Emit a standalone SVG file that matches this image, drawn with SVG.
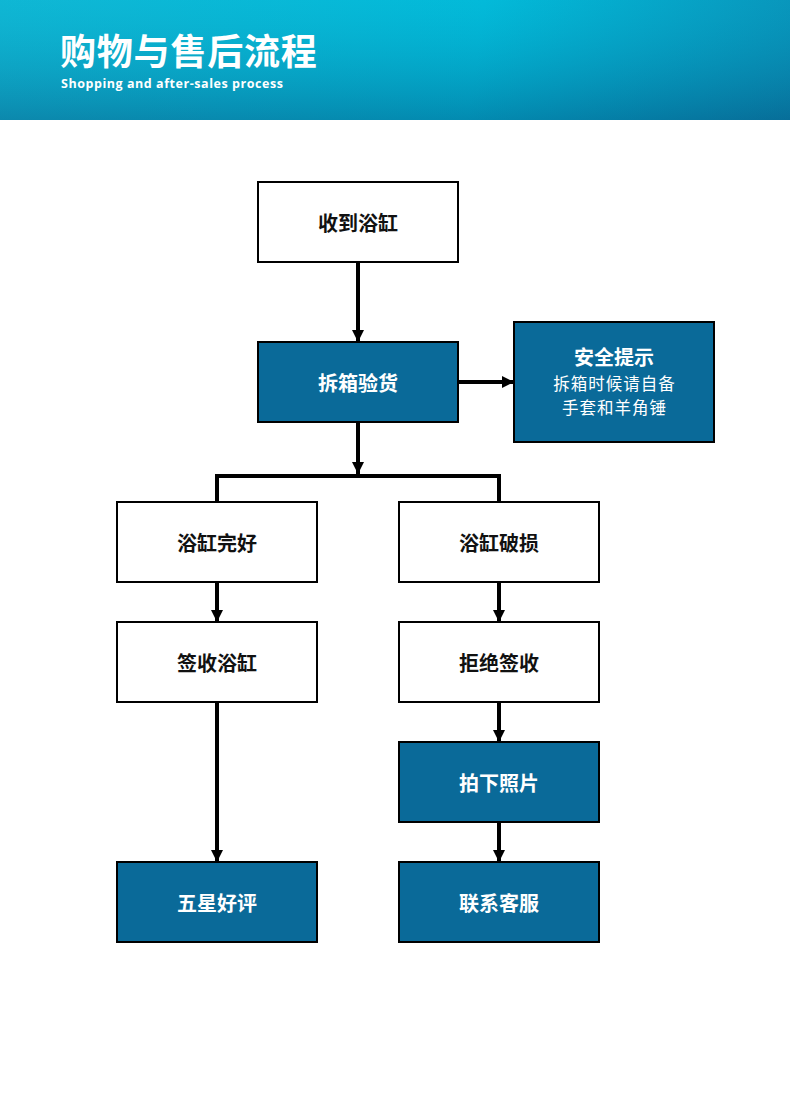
<svg xmlns="http://www.w3.org/2000/svg" width="790" height="1103" viewBox="0 0 790 1103">
<defs>
<linearGradient id="hdr" x1="0" y1="0" x2="790" y2="120" gradientUnits="userSpaceOnUse">
<stop offset="0" stop-color="#12b2d0"/>
<stop offset="0.6" stop-color="#03b6d6"/>
<stop offset="1" stop-color="#0a8ab2"/>
</linearGradient>
<linearGradient id="hdr2" x1="0" y1="0" x2="0" y2="1">
<stop offset="0" stop-color="#00d0ea" stop-opacity="0.15"/>
<stop offset="1" stop-color="#023a6a" stop-opacity="0.35"/>
</linearGradient>
<marker id="ah" viewBox="0 0 12 12" refX="12" refY="6" markerWidth="12" markerHeight="12" markerUnits="userSpaceOnUse" orient="auto">
<path d="M0,0 L12,6 L0,12 Z" fill="#000"/>
</marker>
<style>
.w{fill:#fff;stroke:#000;stroke-width:2}
.b{fill:#0a6a99;stroke:#000;stroke-width:2}
.t{font-family:"Noto Sans CJK SC","Noto Sans",sans-serif;font-size:20px;font-weight:700;text-anchor:middle;dominant-baseline:central}
.tw{fill:#fff}
.tk{fill:#111}
.s{font-family:"Noto Sans CJK SC","Noto Sans",sans-serif;font-size:16.5px;letter-spacing:1px;font-weight:400;text-anchor:middle;dominant-baseline:central;fill:#fff}
.c{stroke:#000;stroke-width:4;fill:none}
</style>
</defs>
<rect width="790" height="1103" fill="#fff"/>
<g id="header">
<rect x="0" y="0" width="790" height="120" fill="url(#hdr)"/>
<rect x="0" y="0" width="790" height="120" fill="url(#hdr2)"/>
<text x="60" y="65" font-family="'Noto Sans CJK SC',sans-serif" font-size="36" font-weight="700" fill="#fff" letter-spacing="0.8">购物与售后流程</text>
<text x="61" y="88" font-family="'Open Sans','Noto Sans',sans-serif" font-size="12.5" font-weight="700" fill="#fff" letter-spacing="0.55">Shopping and after-sales process</text>
</g>
<g id="connectors">
<line class="c" x1="358" y1="262" x2="358" y2="342" marker-end="url(#ah)"/>
<line class="c" x1="458" y1="382" x2="514" y2="382" marker-end="url(#ah)"/>
<line class="c" x1="358" y1="422" x2="358" y2="474" marker-end="url(#ah)"/>
<polyline class="c" points="217,502 217,476 499,476 499,502"/>
<line class="c" x1="217" y1="582" x2="217" y2="622" marker-end="url(#ah)"/>
<line class="c" x1="499" y1="582" x2="499" y2="622" marker-end="url(#ah)"/>
<line class="c" x1="217" y1="702" x2="217" y2="862" marker-end="url(#ah)"/>
<line class="c" x1="499" y1="702" x2="499" y2="742" marker-end="url(#ah)"/>
<line class="c" x1="499" y1="822" x2="499" y2="862" marker-end="url(#ah)"/>
</g>
<g id="n1"><rect class="w" x="258" y="182" width="200" height="80"/><text class="t tk" x="358" y="222">收到浴缸</text></g>
<g id="n2"><rect class="b" x="258" y="342" width="200" height="80"/><text class="t tw" x="358" y="382">拆箱验货</text></g>
<g id="n3"><rect class="b" x="514" y="322" width="200" height="120"/><text class="t tw" x="614" y="356">安全提示</text><text class="s" x="614.5" y="383">拆箱时候请自备</text><text class="s" x="614.5" y="407">手套和羊角锤</text></g>
<g id="n4"><rect class="w" x="117" y="502" width="200" height="80"/><text class="t tk" x="217" y="542">浴缸完好</text></g>
<g id="n5"><rect class="w" x="399" y="502" width="200" height="80"/><text class="t tk" x="499" y="542">浴缸破损</text></g>
<g id="n6"><rect class="w" x="117" y="622" width="200" height="80"/><text class="t tk" x="217" y="662">签收浴缸</text></g>
<g id="n7"><rect class="w" x="399" y="622" width="200" height="80"/><text class="t tk" x="499" y="662">拒绝签收</text></g>
<g id="n8"><rect class="b" x="399" y="742" width="200" height="80"/><text class="t tw" x="499" y="782">拍下照片</text></g>
<g id="n9"><rect class="b" x="117" y="862" width="200" height="80"/><text class="t tw" x="217" y="902">五星好评</text></g>
<g id="n10"><rect class="b" x="399" y="862" width="200" height="80"/><text class="t tw" x="499" y="902">联系客服</text></g>
</svg>
